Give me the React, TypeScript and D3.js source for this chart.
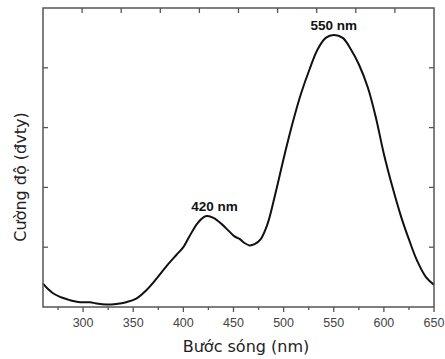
import React from "react";
import * as d3 from "d3";

// Emission spectrum: wavelength (nm) and intensity (arbitrary units)
const wavelengths = [
  260, 265, 270, 277, 284, 290, 297, 307, 313, 323, 333, 343, 353, 363, 373, 383,
  393, 400, 406, 414, 420, 424, 430, 438, 446, 451, 456, 461, 466, 471, 477, 484,
  491, 501, 509, 517, 526, 534, 542, 550, 559, 567, 575, 584, 592, 600, 609, 617,
  625, 633, 642, 650,
];
const intensities = [
  0.39, 0.3, 0.23, 0.17, 0.13, 0.1, 0.08, 0.08, 0.06, 0.04, 0.05, 0.08, 0.14, 0.28, 0.47, 0.68,
  0.87, 1.0, 1.18, 1.4, 1.5, 1.52, 1.49, 1.39, 1.26, 1.18, 1.14, 1.07, 1.03, 1.05, 1.13, 1.39,
  1.84, 2.55, 3.08, 3.55, 3.98, 4.31, 4.5, 4.55, 4.5, 4.31, 4.06, 3.67, 3.17, 2.56, 1.98, 1.52,
  1.13, 0.78, 0.5, 0.37,
];

const xTickLabels = [300, 350, 400, 450, 500, 550, 600, 650];
const xMinorTicks = [275, 325, 375, 425, 475, 525, 575, 625];
const topTicks = [299, 338, 377, 416, 455, 494, 533, 572, 611];
const yTicks = [1, 2, 3, 4];

const peakLabels = [
  { wl: 424, value: 1.52, text: "420 nm", dx: 7 },
  { wl: 550, value: 4.55, text: "550 nm", dx: 0 },
];

const xTitle = "Bước sóng (nm)";
const yTitle = "Cường độ (đvty)";

const W = 445;
const H = 359;
const left = 43;
const right = 434;
const top = 8;
const bottom = 307;

export default function App() {
  const x = d3.scaleLinear().domain([260, 650]).range([left, right]);
  const y = d3.scaleLinear().domain([0, 5]).range([bottom, top]);

  const data = wavelengths.map((w, i) => [w, intensities[i]] as [number, number]);
  const line = d3
    .line<[number, number]>()
    .x((d) => x(d[0]))
    .y((d) => y(d[1]))
    .curve(d3.curveCatmullRom.alpha(0.5));

  const axisColor = "#555";
  const tickFont = "'Liberation Sans', Arial, sans-serif";
  const titleFont = "'DejaVu Sans', Verdana, sans-serif";

  return (
    <svg
      width={W}
      height={H}
      style={{ position: "absolute", left: 0, top: 0, background: "#fff" }}
    >
      <rect x={0} y={0} width={W} height={H} fill="#fff" />
      <path d={line(data) || ""} fill="none" stroke="#111" strokeWidth={2} strokeLinejoin="round" />

      {/* frame */}
      <rect
        x={left}
        y={top}
        width={right - left}
        height={bottom - top}
        fill="none"
        stroke={axisColor}
        strokeWidth={1.5}
      />

      {/* bottom ticks */}
      {xTickLabels.map((t) => (
        <g key={"xt" + t}>
          <line x1={x(t)} x2={x(t)} y1={bottom} y2={bottom + 5} stroke={axisColor} strokeWidth={1.3} />
          <text
            x={x(t)}
            y={327}
            textAnchor="middle"
            fontFamily={tickFont}
            fontSize={12.5}
            fill="#444"
          >
            {t}
          </text>
        </g>
      ))}
      {xMinorTicks.map((t) => (
        <line key={"xm" + t} x1={x(t)} x2={x(t)} y1={bottom} y2={bottom + 3} stroke={axisColor} strokeWidth={1.3} />
      ))}

      {/* top ticks */}
      {topTicks.map((t) => (
        <line key={"tt" + t} x1={x(t)} x2={x(t)} y1={top} y2={top + 5} stroke={axisColor} strokeWidth={1.3} />
      ))}

      {/* left and right ticks */}
      {yTicks.map((t) => (
        <g key={"yt" + t}>
          <line x1={left} x2={left + 5} y1={y(t)} y2={y(t)} stroke={axisColor} strokeWidth={1.3} />
          <line x1={right - 5} x2={right} y1={y(t)} y2={y(t)} stroke={axisColor} strokeWidth={1.3} />
        </g>
      ))}

      {/* peak annotations */}
      {peakLabels.map((p) => (
        <text
          key={p.text}
          x={x(p.wl) + p.dx}
          y={y(p.value) - 5}
          textAnchor="middle"
          fontFamily={tickFont}
          fontWeight="bold"
          fontSize={13.5}
          fill="#111"
        >
          {p.text}
        </text>
      ))}

      {/* axis titles */}
      <text
        x={246}
        y={352}
        textAnchor="middle"
        fontFamily={titleFont}
        fontSize={16}
        fill="#222"
      >
        {xTitle}
      </text>
      <text
        transform={`translate(26, 177) rotate(-90)`}
        textAnchor="middle"
        fontFamily={titleFont}
        fontSize={16}
        fill="#222"
      >
        {yTitle}
      </text>
    </svg>
  );
}
